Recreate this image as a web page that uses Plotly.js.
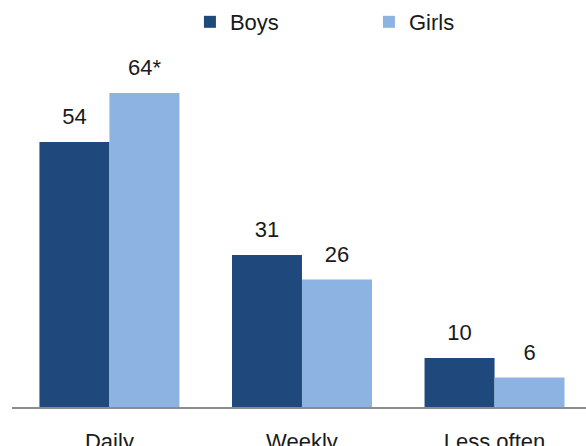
<!DOCTYPE html>
<html>
<head>
<meta charset="utf-8">
<script src="https://cdn.plot.ly/plotly-3.0.1.min.js"></script>
<style>html,body{margin:0;padding:0;background:#fff;}#chart{width:586px;height:446px;}</style>
</head>
<body>
<div id="chart"></div>
<script>
const categories = ['Daily', 'Weekly', 'Less often'];
const boys = [54, 31, 10];
const girls = [64, 26, 6];
const boysLabels = ['54', '31', '10'];
const girlsLabels = ['64*', '26', '6'];

const FONT = 'Liberation Sans, Arial, sans-serif';
const TXT = '#1a1a1a';
const BOYS_COLOR = '#1f497d';
const GIRLS_COLOR = '#8db3e2';

const traces = [
  {type: 'bar', name: 'Boys', x: categories, y: boys, offsetgroup: 'b',
   marker: {color: BOYS_COLOR}, hoverinfo: 'skip'},
  {type: 'bar', name: 'Girls', x: categories, y: girls, offsetgroup: 'g',
   marker: {color: GIRLS_COLOR}, hoverinfo: 'skip'},
  {type: 'scatter', mode: 'markers+text', x: categories, y: boys, text: boysLabels,
   offsetgroup: 'b', textposition: 'top center', showlegend: false, hoverinfo: 'skip',
   cliponaxis: false, marker: {size: 18, opacity: 0},
   textfont: {family: FONT, size: 22, color: TXT}},
  {type: 'scatter', mode: 'markers+text', x: categories, y: girls, text: girlsLabels,
   offsetgroup: 'g', textposition: 'top center', showlegend: false, hoverinfo: 'skip',
   cliponaxis: false, marker: {size: 18, opacity: 0},
   textfont: {family: FONT, size: 22, color: TXT}}
];

const layout = {
  width: 586, height: 446,
  margin: {l: 12, r: 0, t: 40, b: 39},
  paper_bgcolor: '#fff', plot_bgcolor: '#fff',
  barmode: 'group', bargap: 0.273, bargroupgap: 0,
  scattermode: 'group', scattergap: 0.273,
  font: {family: FONT, size: 22, color: TXT},
  showlegend: true,
  legend: {orientation: 'h', x: 0.310, xanchor: 'left', y: 1.049, yanchor: 'middle',
           entrywidth: 134, entrywidthmode: 'pixels',
           font: {family: FONT, size: 22, color: TXT}, traceorder: 'normal'},
  xaxis: {range: [-0.506, 2.475], showgrid: false, zeroline: false,
          showline: true, linecolor: '#8c8c8c', linewidth: 2,
          ticks: '', ticklabelstandoff: 14,
          tickfont: {family: FONT, size: 22, color: TXT}, fixedrange: true},
  yaxis: {range: [0, 74.8], visible: false, fixedrange: true}
};

Plotly.newPlot('chart', traces, layout, {displayModeBar: false, staticPlot: true});
</script>
</body>
</html>
